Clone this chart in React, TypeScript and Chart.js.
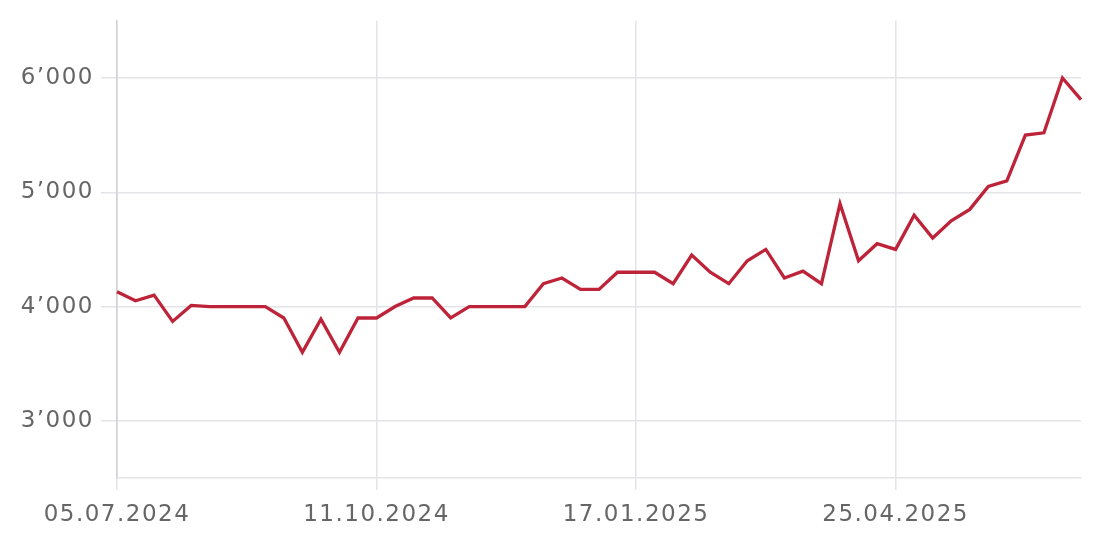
import React, { useEffect, useRef } from "react";
import { Chart, registerables } from "chart.js";

Chart.register(...registerables);

const dates: string[] = [
  "05.07.2024", "12.07.2024", "19.07.2024", "26.07.2024", "02.08.2024", "09.08.2024", "16.08.2024",
  "23.08.2024", "30.08.2024", "06.09.2024", "13.09.2024", "20.09.2024", "27.09.2024", "04.10.2024",
  "11.10.2024", "18.10.2024", "25.10.2024", "01.11.2024", "08.11.2024", "15.11.2024", "22.11.2024",
  "29.11.2024", "06.12.2024", "13.12.2024", "20.12.2024", "27.12.2024", "03.01.2025", "10.01.2025",
  "17.01.2025", "24.01.2025", "31.01.2025", "07.02.2025", "14.02.2025", "21.02.2025", "28.02.2025",
  "07.03.2025", "14.03.2025", "21.03.2025", "28.03.2025", "04.04.2025", "11.04.2025", "18.04.2025",
  "25.04.2025", "02.05.2025", "09.05.2025", "16.05.2025", "23.05.2025", "30.05.2025", "06.06.2025",
  "13.06.2025", "20.06.2025", "27.06.2025", "04.07.2025",
];

const values: number[] = [
  4130, 4050, 4100, 3870, 4010, 4000, 4000, 4000, 4000, 3900,
  3600, 3890, 3600, 3900, 3900, 4000, 4075, 4075, 3900, 4000,
  4000, 4000, 4000, 4200, 4250, 4150, 4150, 4300, 4300, 4300,
  4200, 4450, 4300, 4200, 4400, 4500, 4250, 4310, 4200, 4900,
  4400, 4550, 4500, 4800, 4600, 4750, 4850, 5050, 5100, 5500,
  5520, 6000, 5810,
];

const xTickLabels: string[] = ["05.07.2024", "11.10.2024", "17.01.2025", "25.04.2025"];
const yTickValues: number[] = [3000, 4000, 5000, 6000];

const fmt = (v: number) => {
  const s = Math.round(v).toString();
  return s.replace(/\B(?=(\d{3})+(?!\d))/g, "\u2019");
};

const spacingPlugin = {
  id: "letterSpacing",
  beforeLayout(chart: any) {
    chart.ctx.letterSpacing = "1.5px";
  },
  beforeDraw(chart: any) {
    chart.ctx.letterSpacing = "1.5px";
  },
};

export default function App() {
  const ref = useRef<HTMLCanvasElement | null>(null);
  useEffect(() => {
    if (!ref.current) return;
    const font = { family: "'DejaVu Sans', sans-serif", size: 23 };
    const chart = new Chart(ref.current, {
      type: "line",
      data: {
        labels: dates,
        datasets: [
          {
            data: values,
            borderColor: "#be2439",
            borderWidth: 3.3,
            pointRadius: 0,
            tension: 0,
            fill: false,
          },
        ],
      },
      plugins: [spacingPlugin],
      options: {
        animation: false,
        responsive: true,
        maintainAspectRatio: false,
        layout: { padding: { top: 20, right: 27, left: 0, bottom: 0 } },
        plugins: { legend: { display: false }, tooltip: { enabled: false } },
        scales: {
          x: {
            type: "category",
            afterFit: (s: any) => {
              s.height = 64;
            },
            grid: {
              color: "#e3e4e7",
              lineWidth: 1.5,
              drawTicks: true,
              tickLength: 12,
            },
            border: { display: true, color: "#e3e4e7", width: 1.5 },
            ticks: {
              autoSkip: false,
              maxRotation: 0,
              minRotation: 0,
              padding: 11,
              color: "#666666",
              font,
              callback: function (this: any, _v: any, i: number) {
                const lab = dates[i];
                return xTickLabels.includes(lab) ? lab : null;
              },
            },
          },
          y: {
            min: 2500,
            max: 6500,
            afterFit: (s: any) => {
              s.width = 117;
            },
            afterBuildTicks: (s: any) => {
              s.ticks = yTickValues.map((v) => ({ value: v }));
            },
            grid: {
              color: "#e3e4e7",
              lineWidth: 1.5,
              drawTicks: true,
              tickLength: 16,
            },
            border: { display: true, color: "#cfd0d2", width: 1.5 },
            ticks: {
              padding: 7,
              color: "#666666",
              font,
              callback: (v: any) => fmt(Number(v)),
            },
          },
        },
      },
    });
    return () => chart.destroy();
  }, []);
  return (
    <div style={{ position: "fixed", left: 0, top: 0, width: 1108, height: 542, background: "#fff" }}>
      <canvas ref={ref} />
    </div>
  );
}
